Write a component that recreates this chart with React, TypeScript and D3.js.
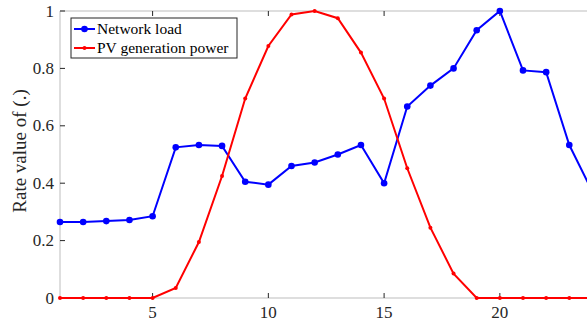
import React, { useEffect, useRef } from "react";
import * as d3 from "d3";

const hours = d3.range(1, 25);
const networkLoad = [0.265, 0.265, 0.268, 0.272, 0.285, 0.525, 0.533, 0.53, 0.405, 0.395, 0.46, 0.472, 0.5, 0.533, 0.4, 0.667, 0.74, 0.8, 0.933, 1.0, 0.793, 0.787, 0.533, 0.37];
const pvPower = [0, 0, 0, 0, 0, 0.035, 0.195, 0.425, 0.695, 0.878, 0.988, 1.0, 0.975, 0.855, 0.695, 0.452, 0.245, 0.085, 0, 0, 0, 0, 0, 0];
const xTicks = [5, 10, 15, 20];
const yTicks = [0, 0.2, 0.4, 0.6, 0.8, 1];
const seriesNames = ["Network load", "PV generation power"];

const App = () => {
  const svgRef = useRef<SVGSVGElement>(null);

  useEffect(() => {
    const width = 587, height = 324;
    const left = 60, top = 11, bottom = 298;
    const font = "Liberation Serif, DejaVu Serif, serif";

    const x = d3.scaleLinear().domain([1, 24]).range([left, left + 23 * 23.15]);
    const y = d3.scaleLinear().domain([0, 1]).range([bottom, top]);

    const svg = d3.select(svgRef.current)
      .attr("width", width)
      .attr("height", height)
      .style("display", "block")
      .style("background", "#fff")
      .style("font-family", font);
    svg.selectAll("*").remove();

    const xEnd = x(24);
    // axis box lines (light grey)
    svg.append("line").attr("x1", left).attr("x2", xEnd).attr("y1", bottom).attr("y2", bottom)
      .attr("stroke", "#bdbdbd").attr("stroke-width", 1);
    svg.append("line").attr("x1", left).attr("x2", xEnd).attr("y1", top).attr("y2", top)
      .attr("stroke", "#bdbdbd").attr("stroke-width", 1);
    svg.append("line").attr("x1", left).attr("x2", left).attr("y1", top).attr("y2", bottom)
      .attr("stroke", "#bdbdbd").attr("stroke-width", 1);

    // x ticks (inward, bottom and top)
    xTicks.forEach(t => {
      svg.append("line").attr("x1", x(t)).attr("x2", x(t)).attr("y1", bottom).attr("y2", bottom - 5)
        .attr("stroke", "#262626");
      svg.append("line").attr("x1", x(t)).attr("x2", x(t)).attr("y1", top).attr("y2", top + 5)
        .attr("stroke", "#262626");
      svg.append("text").attr("x", x(t)).attr("y", bottom + 20)
        .attr("text-anchor", "middle").style("font-size", "17px")
        .attr("fill", "#262626").text(t);
    });

    yTicks.forEach(t => {
      svg.append("line").attr("x1", left).attr("x2", left + 5).attr("y1", y(t)).attr("y2", y(t))
        .attr("stroke", "#262626");
      svg.append("text").attr("x", left - 6).attr("y", y(t)).attr("dy", "0.33em")
        .attr("text-anchor", "end").style("font-size", "17px")
        .attr("fill", "#262626").text(d3.format("~g")(t));
    });

    svg.append("text")
      .attr("transform", "rotate(-90)")
      .attr("x", -151)
      .attr("y", 26)
      .attr("text-anchor", "middle")
      .style("font-size", "19px").attr("fill", "#262626")
      .text("Rate value of (.)");

    const line = d3.line<number>().x((_, i) => x(hours[i])).y(d => y(d));

    svg.append("path").datum(networkLoad).attr("d", line)
      .attr("fill", "none").attr("stroke", "#0000ff").attr("stroke-width", 2);
    svg.selectAll(".load").data(networkLoad).enter().append("circle")
      .attr("cx", (_, i) => x(hours[i])).attr("cy", d => y(d)).attr("r", 3.3)
      .attr("fill", "#0000ff");

    svg.append("path").datum(pvPower).attr("d", line)
      .attr("fill", "none").attr("stroke", "#ff0000").attr("stroke-width", 2);
    svg.selectAll(".pv").data(pvPower).enter().append("circle")
      .attr("cx", (_, i) => x(hours[i])).attr("cy", d => y(d)).attr("r", 2)
      .attr("fill", "#ff0000");

    // legend
    const lg = svg.append("g").attr("transform", "translate(71,18)");
    lg.append("rect").attr("width", 166).attr("height", 40)
      .attr("fill", "#fff").attr("stroke", "#262626").attr("stroke-width", 1);
    const colors = ["#0000ff", "#ff0000"];
    seriesNames.forEach((name, i) => {
      const cy = 11 + i * 19;
      lg.append("line").attr("x1", 3).attr("x2", 24).attr("y1", cy).attr("y2", cy)
        .attr("stroke", colors[i]).attr("stroke-width", 2);
      lg.append("circle").attr("cx", 13.5).attr("cy", cy).attr("r", i === 0 ? 3.3 : 2).attr("fill", colors[i]);
      lg.append("text").attr("x", 26).attr("y", cy).attr("dy", "0.33em")
        .style("font-size", "15.5px").attr("fill", "#000").text(name);
    });
  }, []);

  return (
    <div style={{ position: "fixed", left: 0, top: 0 }}>
      <svg ref={svgRef}></svg>
    </div>
  );
};

export default App;
